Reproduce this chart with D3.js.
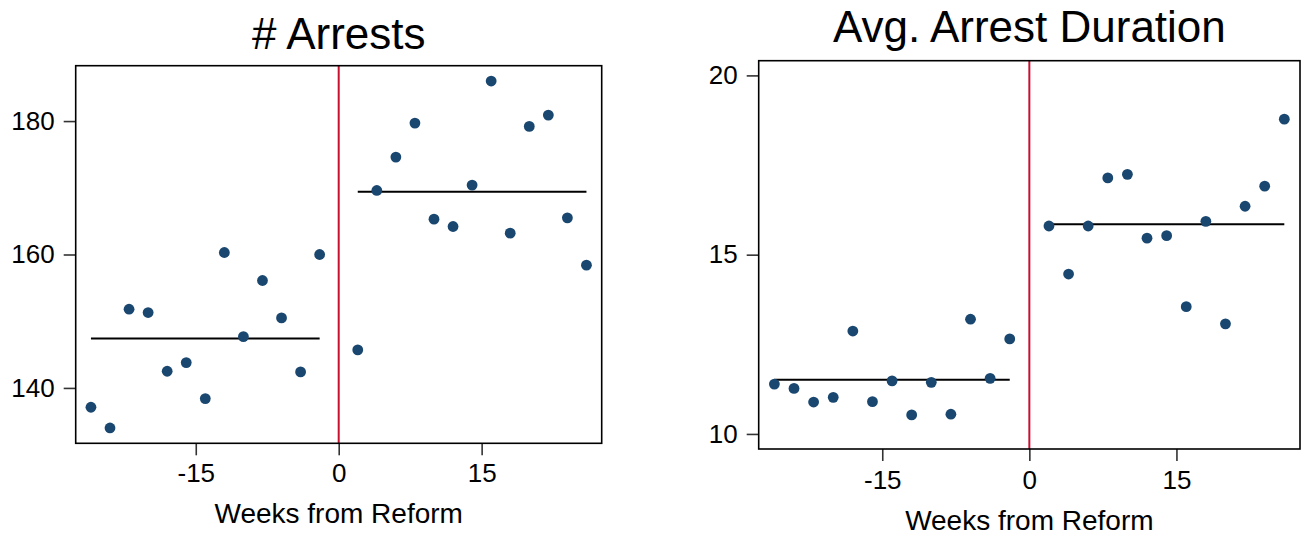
<!DOCTYPE html>
<html>
<head>
<meta charset="utf-8">
<script src="https://cdn.jsdelivr.net/npm/d3@7"></script>
<style>
    body { margin: 0; background: #fff; }
    svg { display: block; font-family: "Liberation Sans", Arial, sans-serif; }
    .tick line { stroke: #333; stroke-width: 1.6; }
    .tick text { fill: #000; }
</style>
</head>
<body>
<div id="chart"></div>
<script>
// weeks from reform (2-week bins)
const weeksPre = [-26, -24, -22, -20, -18, -16, -14, -12, -10, -8, -6, -4, -2];
const weeksPost = [2, 4, 6, 8, 10, 12, 14, 16, 18, 20, 22, 24, 26];
const xTicks = [-15, 0, 15];

// # arrests
const arrestsPre = [137.1, 134.0, 151.8, 151.3, 142.5, 143.8, 138.4, 160.3, 147.7, 156.1, 150.5, 142.4, 160.0];
const arrestsPost = [145.7, 169.6, 174.6, 179.7, 165.3, 164.2, 170.4, 186.0, 163.2, 179.2, 180.9, 165.5, 158.4];
const arrestsMeans = [147.4, 169.4];
const arrestsTicks = [140, 160, 180];

// avg. arrest duration
const durationPre = [11.39, 11.27, 10.89, 11.02, 12.87, 10.90, 11.48, 10.53, 11.44, 10.55, 13.20, 11.55, 12.65];
const durationPost = [15.80, 14.46, 15.80, 17.14, 17.24, 15.46, 15.53, 13.55, 15.93, 13.07, 16.35, 16.91, 18.78];
const durationMeans = [11.51, 15.85];
const durationTicks = [10, 15, 20];

const width = 1307;
const height = 535;

// plain hyphen for negatives, like the original
const fmt = d => String(d);

const svg = d3.select('#chart')
  .append('svg')
    .attr('width', width)
    .attr('height', height);

function panel(opts) {
    const xScale = d3.scaleLinear()
        .domain([-27.6, 27.6])
        .range([opts.left, opts.right]);

    const yScale = d3.scaleLinear()
        .domain(opts.yDomain)
        .range([opts.bottom, opts.top]);

    const g = svg.append('g');

    // title
    g.append('text')
        .attr('x', (opts.left + opts.right) / 2)
        .attr('y', opts.titleY)
        .attr('text-anchor', 'middle')
        .style('font-size', '44px')
        .text(opts.title);

    // axes
    g.append('g')
        .attr('transform', `translate(${opts.left},0)`)
        .call(d3.axisLeft(yScale).tickValues(opts.yTicks).tickFormat(fmt).tickSize(12).tickPadding(9))
        .call(a => a.select('.domain').remove())
        .selectAll('text').style('font-size', '26px');

    g.append('g')
        .attr('transform', `translate(0,${opts.bottom})`)
        .call(d3.axisBottom(xScale).tickValues(xTicks).tickFormat(fmt).tickSize(12).tickPadding(opts.xPad))
        .call(a => a.select('.domain').remove())
        .selectAll('text').style('font-size', '26px');

    g.append('text')
        .attr('x', xScale(0))
        .attr('y', opts.xTitleY)
        .attr('text-anchor', 'middle')
        .style('font-size', '28px')
        .text('Weeks from Reform');

    // reform line
    g.append('line')
        .attr('x1', xScale(0)).attr('x2', xScale(0))
        .attr('y1', opts.top).attr('y2', opts.bottom)
        .attr('stroke', '#c8102e')
        .attr('stroke-width', 2);

    // means before / after
    const segs = [
        {x0: weeksPre[0], x1: weeksPre[weeksPre.length - 1], y: opts.means[0]},
        {x0: weeksPost[0], x1: weeksPost[weeksPost.length - 1], y: opts.means[1]}
    ];
    g.selectAll('.mean')
        .data(segs)
        .enter()
      .append('line')
        .classed('mean', true)
        .attr('x1', d => xScale(d.x0))
        .attr('x2', d => xScale(d.x1))
        .attr('y1', d => yScale(d.y))
        .attr('y2', d => yScale(d.y))
        .attr('stroke', '#000')
        .attr('stroke-width', 2);

    // points
    const pts = weeksPre.map((w, i) => ({w, v: opts.pre[i]}))
        .concat(weeksPost.map((w, i) => ({w, v: opts.post[i]})));

    g.selectAll('.dot')
        .data(pts)
        .enter()
      .append('circle')
        .classed('dot', true)
        .attr('cx', d => xScale(d.w))
        .attr('cy', d => yScale(d.v))
        .attr('r', 5.4)
        .attr('fill', '#1a476f');

    // frame
    g.append('rect')
        .attr('x', opts.left)
        .attr('y', opts.top)
        .attr('width', opts.right - opts.left)
        .attr('height', opts.bottom - opts.top)
        .attr('fill', 'none')
        .attr('stroke', '#000')
        .attr('stroke-width', 1.6);
}

panel({
    title: '# Arrests',
    titleY: 49,
    left: 75.7, right: 601.7, top: 65.7, bottom: 443.3,
    yDomain: [131.7, 188.3],
    yTicks: arrestsTicks,
    pre: arrestsPre, post: arrestsPost, means: arrestsMeans,
    xPad: 8, xTitleY: 523
});

panel({
    title: 'Avg. Arrest Duration',
    titleY: 42,
    left: 758.7, right: 1300, top: 60.7, bottom: 449,
    yDomain: [9.58, 20.41],
    yTicks: durationTicks,
    pre: durationPre, post: durationPost, means: durationMeans,
    xPad: 10, xTitleY: 530
});
</script>
</body>
</html>
